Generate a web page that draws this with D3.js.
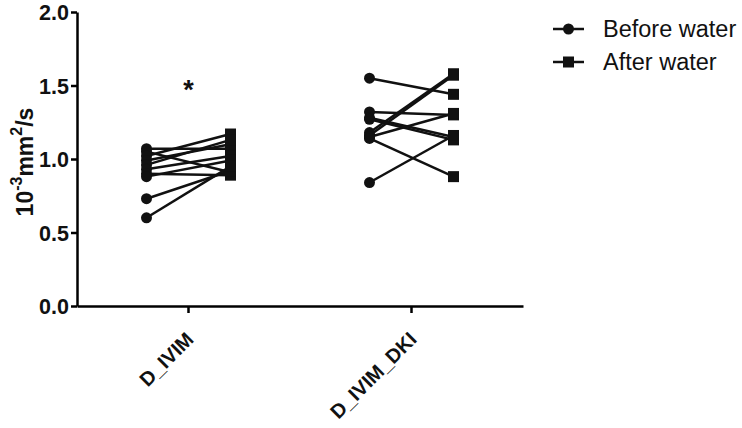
<!DOCTYPE html>
<html>
<head>
<meta charset="utf-8">
<script src="https://cdn.jsdelivr.net/npm/d3@7"></script>
<style>
  body { margin: 0; background: #fff; }
  svg { display: block; font-family: "Liberation Sans", Arial, sans-serif; }
</style>
</head>
<body>
<div id="chart"></div>
<script>
// categories on the x axis
const categories = ["D_IVIM", "D_IVIM_DKI"];
// paired values per subject (10^-3 mm2/s)
const ivimBefore = [1.07, 1.05, 1.02, 0.99, 0.96, 0.93, 0.90, 0.88, 0.73, 0.60];
const ivimAfter = [1.07, 0.91, 1.17, 1.10, 1.13, 1.02, 0.89, 0.99, 0.92, 0.95];
const dkiBefore = [1.55, 1.32, 1.28, 1.27, 1.18, 1.16, 1.15, 1.14, 0.84];
const dkiAfter = [1.44, 1.30, 1.15, 1.13, 1.58, 1.57, 1.31, 0.88, 1.16];
const yTicks = [0.0, 0.5, 1.0, 1.5, 2.0];
const seriesNames = ["Before water", "After water"];

const W = 742, H = 428;
const margin = { top: 12, right: 219, bottom: 122, left: 77 };
const width = W - margin.left - margin.right;
const height = H - margin.top - margin.bottom;

const svg = d3.select("#chart").append("svg")
  .attr("width", W)
  .attr("height", H);

const g = svg.append("g")
  .attr("transform", `translate(${margin.left},${margin.top})`);

const x = d3.scaleBand().domain(categories).range([0, width]);
const y = d3.scaleLinear().domain([0, 2]).range([height, 0]);
const offset = 42; // before/after spread inside a group

const groups = [
  { cat: "D_IVIM", before: ivimBefore, after: ivimAfter },
  { cat: "D_IVIM_DKI", before: dkiBefore, after: dkiAfter }
];

// axes
const yAxis = g.append("g")
  .call(d3.axisLeft(y).tickValues(yTicks).tickFormat(d3.format(".1f")).tickSize(6).tickSizeOuter(0));
yAxis.select(".domain").attr("stroke-width", 2.5);
yAxis.selectAll(".tick line").attr("stroke-width", 2.5);
yAxis.selectAll("text")
  .attr("font-size", "21.5px").attr("font-weight", "bold").attr("fill", "#111")
  .attr("x", -8).attr("dy", "0.36em");

const xAxis = g.append("g")
  .attr("transform", `translate(0,${height})`)
  .call(d3.axisBottom(x).tickSize(7).tickSizeOuter(0));
xAxis.select(".domain").attr("stroke-width", 2.5);
xAxis.selectAll(".tick line").attr("stroke-width", 2.5);
xAxis.selectAll("text")
  .attr("font-size", "20px").attr("font-weight", "bold").attr("fill", "#111")
  .attr("text-anchor", "end")
  .attr("transform", "rotate(-45)")
  .attr("x", -20).attr("y", 29).attr("dy", 0);

// y axis title
const yTitle = svg.append("text")
  .attr("transform", `translate(33,162) rotate(-90)`)
  .attr("text-anchor", "middle")
  .attr("font-size", "23px").attr("font-weight", "bold").attr("fill", "#111");
yTitle.append("tspan").text("10");
yTitle.append("tspan").attr("font-size", "16px").attr("dy", "-11").text("-3");
yTitle.append("tspan").attr("dy", "11").text("mm");
yTitle.append("tspan").attr("font-size", "16px").attr("dy", "-11").text("2");
yTitle.append("tspan").attr("dy", "11").text("/s");

// paired lines and markers
groups.forEach(grp => {
  const cx = x(grp.cat) + x.bandwidth() / 2;
  const gg = g.append("g");
  gg.selectAll("line.pair")
    .data(grp.before.map((b, i) => [b, grp.after[i]]))
    .enter().append("line")
    .attr("x1", cx - offset).attr("y1", d => y(d[0]))
    .attr("x2", cx + offset).attr("y2", d => y(d[1]))
    .attr("stroke", "#111").attr("stroke-width", 2.5);
  gg.selectAll("circle")
    .data(grp.before).enter().append("circle")
    .attr("cx", cx - offset).attr("cy", d => y(d))
    .attr("r", 5.5).attr("fill", "#111");
  gg.selectAll("rect")
    .data(grp.after).enter().append("rect")
    .attr("x", cx + offset - 5.5).attr("y", d => y(d) - 5.5)
    .attr("width", 11).attr("height", 11).attr("fill", "#111");
});

// significance star over D_IVIM
g.append("text")
  .attr("x", x("D_IVIM") + x.bandwidth() / 2).attr("y", y(1.5) + 13)
  .attr("text-anchor", "middle")
  .attr("font-size", "27px").attr("font-weight", "bold").attr("fill", "#111")
  .text("*");

// legend
const legend = svg.append("g").attr("transform", "translate(553,29)");
seriesNames.forEach((name, i) => {
  const row = legend.append("g").attr("transform", `translate(0,${i * 33})`);
  row.append("line").attr("x1", 0).attr("x2", 31).attr("stroke", "#111").attr("stroke-width", 2.5);
  if (i === 0) row.append("circle").attr("cx", 15.5).attr("r", 5.5).attr("fill", "#111");
  else row.append("rect").attr("x", 10).attr("y", -5.5).attr("width", 11).attr("height", 11).attr("fill", "#111");
  row.append("text").attr("x", 50).attr("dy", "0.36em")
    .attr("font-size", "23.5px").attr("fill", "#111").text(name);
});
</script>
</body>
</html>
